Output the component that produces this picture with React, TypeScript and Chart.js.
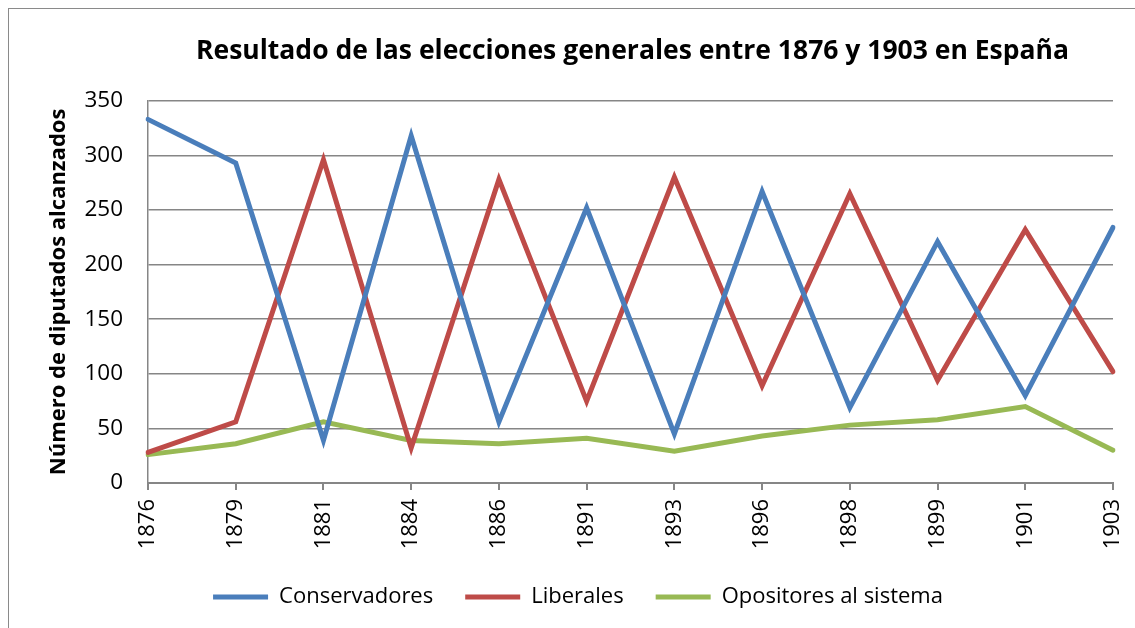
import { useEffect, useRef } from 'react';
import { Chart, registerables } from 'chart.js';

Chart.register(...registerables);

const years = ['1876', '1879', '1881', '1884', '1886', '1891', '1893', '1896', '1898', '1899', '1901', '1903'];
const conservadores = [333, 293, 39, 318, 56, 252, 45, 267, 69, 221, 80, 234];
const liberales = [28, 56, 296, 32, 278, 75, 280, 89, 265, 94, 232, 102];
const opositores = [26, 36, 56, 39, 36, 41, 29, 43, 53, 58, 70, 30];

const FONT = "'Open Sans'";

export default function App() {
  const ref = useRef<HTMLCanvasElement>(null);

  useEffect(() => {
    if (!ref.current) return;
    const shiftBoxes = {
      id: 'shiftBoxes',
      afterLayout(chart: any) {
        const ca = chart.chartArea;
        const t = chart.titleBlock;
        if (t) {
          const d = (ca.left + ca.right) / 2 + 2 - (t.left + t.right) / 2;
          t.left += d;
          t.right += d;
        }
        const l = chart.legend;
        if (l) {
          const d = 578 - (l.left + l.right) / 2;
          l.left += d;
          l.right += d;
        }
      },
    };
    const ds = (label: string, data: number[], color: string) => ({
      label,
      data,
      borderColor: color,
      backgroundColor: color,
      borderWidth: 5,
      borderCapStyle: 'round' as const,
      pointRadius: 0,
      tension: 0,
      fill: false,
    });
    const chart = new Chart(ref.current, {
      type: 'line',
      data: {
        labels: years,
        datasets: [
          ds('Conservadores', conservadores, '#4A7EBB'),
          ds('Liberales', liberales, '#BE4B48'),
          ds('Opositores al sistema', opositores, '#98B954'),
        ],
      },
      options: {
        responsive: false,
        animation: false,
        layout: { padding: { left: 0, right: 22, top: 0, bottom: 10 } },
        plugins: {
          title: {
            display: true,
            text: 'Resultado de las elecciones generales entre 1876 y 1903 en España',
            font: { family: FONT, size: 26.5, weight: 'bold' },
            color: '#000',
            padding: { top: 36, bottom: 33 },
          },
          legend: {
            position: 'bottom',
            labels: {
              usePointStyle: true,
              pointStyle: 'line',
              pointStyleWidth: 55,
              font: { family: FONT, size: 22 },
              color: '#000',
              padding: 32,
            },
          },
          tooltip: { enabled: false },
        },
        scales: {
          x: {
            grid: { drawOnChartArea: false, drawTicks: true, tickLength: 7, color: '#868686', lineWidth: 2 },
            border: { color: '#868686', width: 2 },
            ticks: { minRotation: 90, maxRotation: 90, padding: 9, font: { family: FONT, size: 22 }, color: '#000' },
            afterFit: (s: any) => {
              s.height = 71;
              s.paddingLeft = 0;
              s.paddingRight = 0;
            },
          },
          y: {
            min: 0,
            max: 350,
            ticks: { stepSize: 50, padding: 25, font: { family: FONT, size: 22.5 }, color: '#000' },
            grid: { color: '#868686', lineWidth: 1.5, drawTicks: false },
            border: { display: true, color: '#868686', width: 1.5 },
            title: {
              display: true,
              text: 'Número de diputados alcanzados',
              font: { family: FONT, size: 22, weight: 'bold' },
              color: '#000',
              padding: { top: 46, bottom: 0 },
            },
            afterFit: (s: any) => {
              s.width = 148;
            },
          },
        },
      },
      plugins: [shiftBoxes],
    });
    return () => chart.destroy();
  }, []);

  return (
    <div style={{ position: 'fixed', left: 0, top: 0, width: 1135, height: 628, background: '#fff', overflow: 'hidden' }}>
      <div
        style={{
          position: 'absolute',
          left: 8,
          top: 8,
          width: 1140,
          height: 640,
          border: '1.5px solid #8a8a8a',
        }}
      />
      <canvas ref={ref} width={1135} height={628} style={{ position: 'absolute', left: 0, top: 0 }} />
    </div>
  );
}
